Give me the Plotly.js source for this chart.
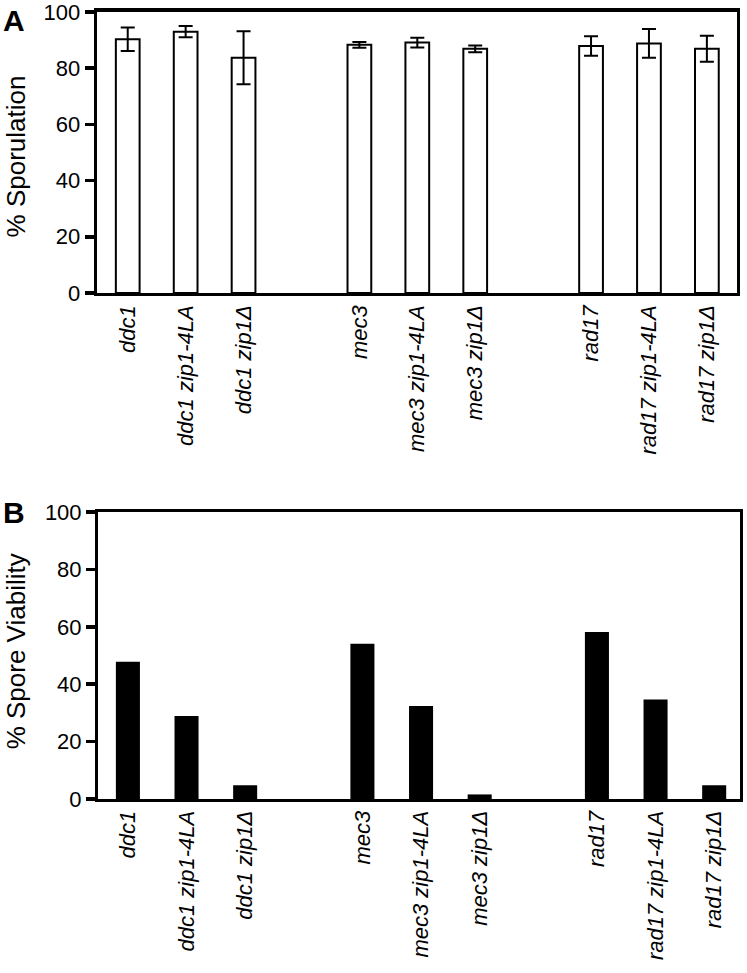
<!DOCTYPE html>
<html>
<head>
<meta charset="utf-8">
<script src="https://cdn.plot.ly/plotly-3.0.1.min.js"></script>
<style>
  html, body { margin: 0; padding: 0; background: #fff; }
  #chart { width: 747px; height: 973px; }
</style>
</head>
<body>
<div id="chart"></div>
<script>
// strains, three per group, a blank slot between groups
var strains = ['ddc1', 'ddc1 zip1-4LA', 'ddc1 zip1Δ',
               'mec3', 'mec3 zip1-4LA', 'mec3 zip1Δ',
               'rad17', 'rad17 zip1-4LA', 'rad17 zip1Δ'];
var sporulation = [90.3, 93.0, 83.7, 88.3, 89.1, 86.9, 87.9, 88.8, 86.9];
var sporulation_err = [4.2, 2.0, 9.4, 1.0, 1.7, 1.2, 3.5, 5.1, 4.6];
var viability = [47.8, 28.9, 4.8, 54.1, 32.4, 1.6, 58.2, 34.7, 4.8];
var y_ticks = [0, 20, 40, 60, 80, 100];

var slot = strains.map(function(s, i) { return i + Math.floor(i / 3); });
var tick_text = strains.map(function(s) { return '<i>' + s + '</i>'; });

var font = 'Liberation Sans, Arial, sans-serif';

var trace_a = {
  x: slot,
  y: sporulation,
  type: 'bar',
  width: 0.41,
  marker: { color: 'white', line: { color: 'black', width: 2 } },
  error_y: { type: 'data', array: sporulation_err, visible: true,
             color: 'black', thickness: 2, width: 7 },
  xaxis: 'x', yaxis: 'y',
  hoverinfo: 'x+y'
};

var trace_b = {
  x: slot,
  y: viability,
  type: 'bar',
  width: 0.41,
  marker: { color: 'black', line: { color: 'black', width: 0 } },
  xaxis: 'x2', yaxis: 'y2',
  hoverinfo: 'x+y'
};

function x_axis(domain, range, anchor, lw) {
  return {
    domain: domain,
    range: range,
    anchor: anchor,
    tickmode: 'array',
    tickvals: slot,
    ticktext: tick_text,
    tickangle: -90,
    ticks: '',
    showline: true,
    mirror: true,
    linecolor: 'black',
    linewidth: lw,
    showgrid: false,
    zeroline: false,
    ticklabeloverflow: 'allow',
    tickfont: { family: font, size: 22, color: 'black' }
  };
}

function y_axis(domain, anchor, lw) {
  return {
    domain: domain,
    range: [0, 100],
    anchor: anchor,
    tickmode: 'array',
    tickvals: y_ticks,
    ticks: 'outside',
    ticklen: 9,
    tickwidth: 3.5,
    tickcolor: 'black',
    showline: true,
    mirror: true,
    linecolor: 'black',
    linewidth: lw,
    showgrid: false,
    zeroline: false,
    ticklabeloverflow: 'allow',
    tickfont: { family: font, size: 22, color: 'black' }
  };
}

function label(text, x, y, size, angle, bold) {
  return {
    text: bold ? '<b>' + text + '</b>' : text,
    xref: 'paper', yref: 'paper', x: x, y: y,
    xanchor: bold ? 'left' : 'center', yanchor: bold ? 'top' : 'middle',
    textangle: angle, showarrow: false,
    font: { family: font, size: size, color: 'black' }
  };
}

var layout = {
  width: 747,
  height: 973,
  margin: { l: 0, r: 0, t: 0, b: 0 },
  paper_bgcolor: 'white',
  plot_bgcolor: 'white',
  showlegend: false,
  xaxis: x_axis([0.1299, 0.9866], [-0.53, 10.52], 'y', 3.5),
  yaxis: y_axis([0.6989, 0.9877], 'x', 3.5),
  xaxis2: x_axis([0.1312, 0.9906], [-0.51, 10.44], 'y2', 3),
  yaxis2: y_axis([0.1788, 0.4738], 'x2', 3),
  annotations: [
    label('A', 0.002, 0.998, 30, 0, true),
    label('B', 0.002, 0.492, 30, 0, true),
    label('% Sporulation', 0.022, 0.8397, 26, -90, false),
    label('% Spore Viability', 0.022, 0.331, 26, -90, false)
  ]
};

Plotly.newPlot('chart', [trace_a, trace_b], layout, { displayModeBar: false, staticPlot: true });
</script>
</body>
</html>
